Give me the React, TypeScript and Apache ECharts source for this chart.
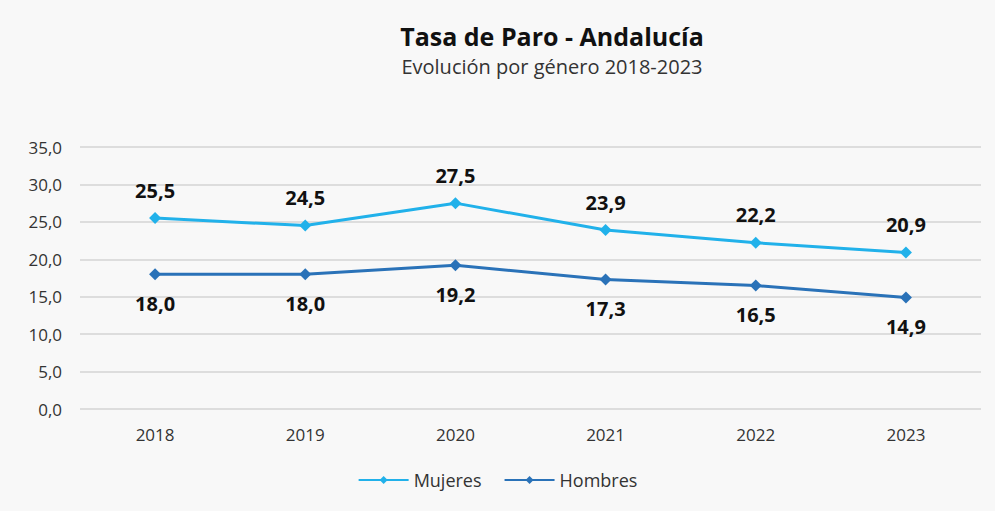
import React, { useEffect, useRef } from "react";
import * as echarts from "echarts";

const years = ["2018", "2019", "2020", "2021", "2022", "2023"];
const mujeres = [25.5, 24.5, 27.5, 23.9, 22.2, 20.9];
const hombres = [18.0, 18.0, 19.2, 17.3, 16.5, 14.9];
const titleText = "Tasa de Paro - Andalucía";
const subtitleText = "Evolución por género 2018-2023";

const FONT = "'Open Sans', 'Noto Sans', sans-serif";
const fmt = (v: number) => v.toFixed(1).replace(".", ",");

export default function App() {
  const ref = useRef<HTMLDivElement>(null);
  useEffect(() => {
    document.body.style.margin = "0";
    const chart = echarts.init(ref.current!, null, { renderer: "svg" });
    chart.setOption({
      animation: false,
      backgroundColor: "#f8f8f8",
      textStyle: { fontFamily: FONT },
      title: {
        text: titleText,
        subtext: subtitleText,
        left: 547,
        textAlign: "center",
        top: 18,
        itemGap: 8,
        textStyle: { fontSize: 25, fontWeight: "bold", color: "#111", fontFamily: FONT },
        subtextStyle: { fontSize: 20, color: "#333", fontFamily: FONT },
      },
      legend: {
        bottom: 17,
        left: "center",
        itemWidth: 50,
        itemHeight: 10,
        itemGap: 22,
        textStyle: { fontSize: 18, color: "#333", fontFamily: FONT },
        data: ["Mujeres", "Hombres"],
      },
      grid: { left: 80, right: 14, top: 147, bottom: 102 },
      xAxis: {
        type: "category",
        data: years,
        axisLine: { show: false },
        axisTick: { show: false },
        axisLabel: { fontSize: 17, color: "#333", margin: 17 },
      },
      yAxis: {
        type: "value",
        min: 0,
        max: 35,
        interval: 5,
        axisLabel: { fontSize: 17, color: "#333", formatter: (v: number) => fmt(v), margin: 18 },
        splitLine: { lineStyle: { color: "#d4d4d4", width: 1.5 } },
      },
      series: [
        {
          name: "Mujeres",
          type: "line",
          data: mujeres,
          symbol: "diamond",
          symbolSize: 12,
          lineStyle: { color: "#21b1ea", width: 3 },
          itemStyle: { color: "#21b1ea" },
          label: {
            show: true,
            position: "top",
            distance: 12,
            fontSize: 20,
            fontWeight: "bold",
            color: "#111",
            formatter: (p: any) => fmt(p.value),
          },
        },
        {
          name: "Hombres",
          type: "line",
          data: hombres,
          symbol: "diamond",
          symbolSize: 12,
          lineStyle: { color: "#2a72b8", width: 3 },
          itemStyle: { color: "#2a72b8" },
          label: {
            show: true,
            position: "bottom",
            distance: 13,
            fontSize: 20,
            fontWeight: "bold",
            color: "#111",
            formatter: (p: any) => fmt(p.value),
          },
        },
      ],
    });
    return () => chart.dispose();
  }, []);
  return <div ref={ref} style={{ width: 995, height: 511 }} />;
}
